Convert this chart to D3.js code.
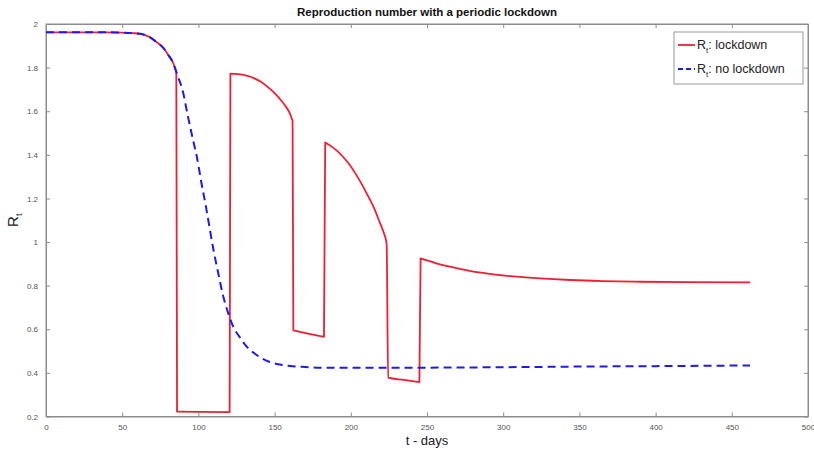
<!DOCTYPE html>
<html><head><meta charset="utf-8">
<script src="https://cdn.jsdelivr.net/npm/d3@7"></script>
<style>body{margin:0;background:#fff}svg{display:block}text{font-family:"Liberation Sans",Arial,sans-serif}</style>
</head><body>
<svg id="c" width="814" height="451"></svg>
<script>
const xTicks = [0,50,100,150,200,250,300,350,400,450,500];
const yTicks = [0.2,0.4,0.6,0.8,1,1.2,1.4,1.6,1.8,2];
const lockT = [0,10,20,30,40,50,57,62,68,72,77,80,83.5,85.5, 86,100,120.5, 121,126,131,136,141,146,150,154,157,160,161.8, 162.3,172,182.4, 183.2,187,191,195,199,203,207,211,215,219,221.5,223.5, 224.5,235,245, 245.8,255,265,278,295,311,330,344,365,390,420,462];
const lockR = [1.962,1.962,1.962,1.962,1.962,1.96,1.958,1.955,1.94,1.92,1.89,1.86,1.82,1.78, 0.222,0.221,0.22, 1.772,1.770,1.764,1.753,1.735,1.708,1.683,1.652,1.625,1.59,1.555, 0.595,0.58,0.565, 1.457,1.44,1.418,1.39,1.357,1.315,1.268,1.215,1.16,1.09,1.045,0.993, 0.378,0.368,0.358, 0.925,0.905,0.887,0.868,0.851,0.84,0.831,0.826,0.821,0.818,0.816,0.815];
const noLockT = [0,10,20,30,40,50,57,62,68,72,77,80,83.5,86,90,93,96.5,99,102,105,107.6,110,113,116,119.5,123,127,132,138,145,151.5,160,170,180,200,250,300,350,400,462];
const noLockR = [1.962,1.962,1.962,1.962,1.962,1.96,1.958,1.955,1.94,1.92,1.89,1.86,1.82,1.77,1.685,1.58,1.468,1.39,1.271,1.16,1.055,0.96,0.858,0.76,0.675,0.61,0.565,0.518,0.483,0.455,0.441,0.432,0.427,0.424,0.423,0.424,0.426,0.429,0.431,0.434];

const svg = d3.select("#c");
const L=46,R=808,T=24,B=416.5;
const x = d3.scaleLinear().domain([0,500]).range([L,R]);
const y = d3.scaleLinear().domain([0.2,2]).range([B,T]);
const axCol="#8c8c8c", txtCol="#555";

svg.append("rect").attr("x",L).attr("y",T).attr("width",R-L).attr("height",B-T).attr("fill","#fff").attr("stroke",axCol).attr("stroke-width",1);

const fmt = d => String(d);
const gx = svg.append("g").attr("transform",`translate(0,${B})`).call(d3.axisBottom(x).tickValues(xTicks).tickFormat(fmt).tickSizeInner(-4).tickSizeOuter(0).tickPadding(8));
const gxt = svg.append("g").attr("transform",`translate(0,${T})`).call(d3.axisTop(x).tickValues(xTicks).tickFormat("").tickSizeInner(-4).tickSizeOuter(0));
const gy = svg.append("g").attr("transform",`translate(${L},0)`).call(d3.axisLeft(y).tickValues(yTicks).tickFormat(fmt).tickSizeInner(-4).tickSizeOuter(0).tickPadding(8));
const gyr = svg.append("g").attr("transform",`translate(${R},0)`).call(d3.axisRight(y).tickValues(yTicks).tickFormat("").tickSizeInner(-4).tickSizeOuter(0));
[gx,gxt,gy,gyr].forEach(g=>{
  g.select(".domain").attr("stroke",axCol);
  g.selectAll(".tick line").attr("stroke",axCol);
  g.selectAll(".tick text").attr("fill",txtCol).attr("font-size","8px");
});

// smooth runs, joined by straight jumps where consecutive times are < 1 day apart
const line = d3.line().x(d=>x(d[0])).y(d=>y(d[1])).curve(d3.curveMonotoneX);
function jumpPath(pts){
  const runs=[[pts[0]]];
  for(let i=1;i<pts.length;i++){
    if(pts[i][0]-pts[i-1][0] < 1) runs.push([pts[i]]); else runs[runs.length-1].push(pts[i]);
  }
  return runs.map((r,i)=>{ const s=line(r); return i===0? s : "L"+s.slice(1); }).join("");
}
svg.append("path").attr("d",jumpPath(lockT.map((t,i)=>[t,lockR[i]]))).attr("fill","none").attr("stroke","#f01e32").attr("stroke-width",1.8).attr("stroke-linejoin","round");
svg.append("path").attr("d",line(noLockT.map((t,i)=>[t,noLockR[i]]))).attr("fill","none").attr("stroke","#1c1ce6").attr("stroke-width",2).attr("stroke-dasharray","8,5");

svg.append("text").attr("x",(L+R)/2).attr("y",16).attr("text-anchor","middle").attr("font-weight","bold").attr("font-size","11.5px").attr("fill","#111").text("Reproduction number with a periodic lockdown");
svg.append("text").attr("x",(L+R)/2).attr("y",445).attr("text-anchor","middle").attr("font-size","13px").attr("fill","#222").text("t - days");
const yl = svg.append("text").attr("transform",`translate(18,${(T+B)/2}) rotate(-90)`).attr("text-anchor","middle").attr("font-size","15px").attr("fill","#222");
yl.append("tspan").text("R");
yl.append("tspan").attr("font-size","9px").attr("dy",4).text("t");

const lg = svg.append("g");
lg.append("rect").attr("x",674).attr("y",32).attr("width",129).attr("height",52).attr("fill","#fff").attr("stroke","#999").attr("stroke-width",1);
const items=[{c:"#f01e32",d:null,label:": lockdown",yy:45},{c:"#1c1ce6",d:"5,3",label:": no lockdown",yy:69}];
items.forEach(it=>{
  lg.append("line").attr("x1",678).attr("x2",695).attr("y1",it.yy).attr("y2",it.yy).attr("stroke",it.c).attr("stroke-width",1.8).attr("stroke-dasharray",it.d);
  const t=lg.append("text").attr("x",697).attr("y",it.yy+4).attr("font-size","12.5px").attr("fill","#222");
  t.append("tspan").text("R");
  t.append("tspan").attr("font-size","8px").attr("dy",4).text("t");
  t.append("tspan").attr("dy",-4).text(it.label);
});
</script>
</body></html>
